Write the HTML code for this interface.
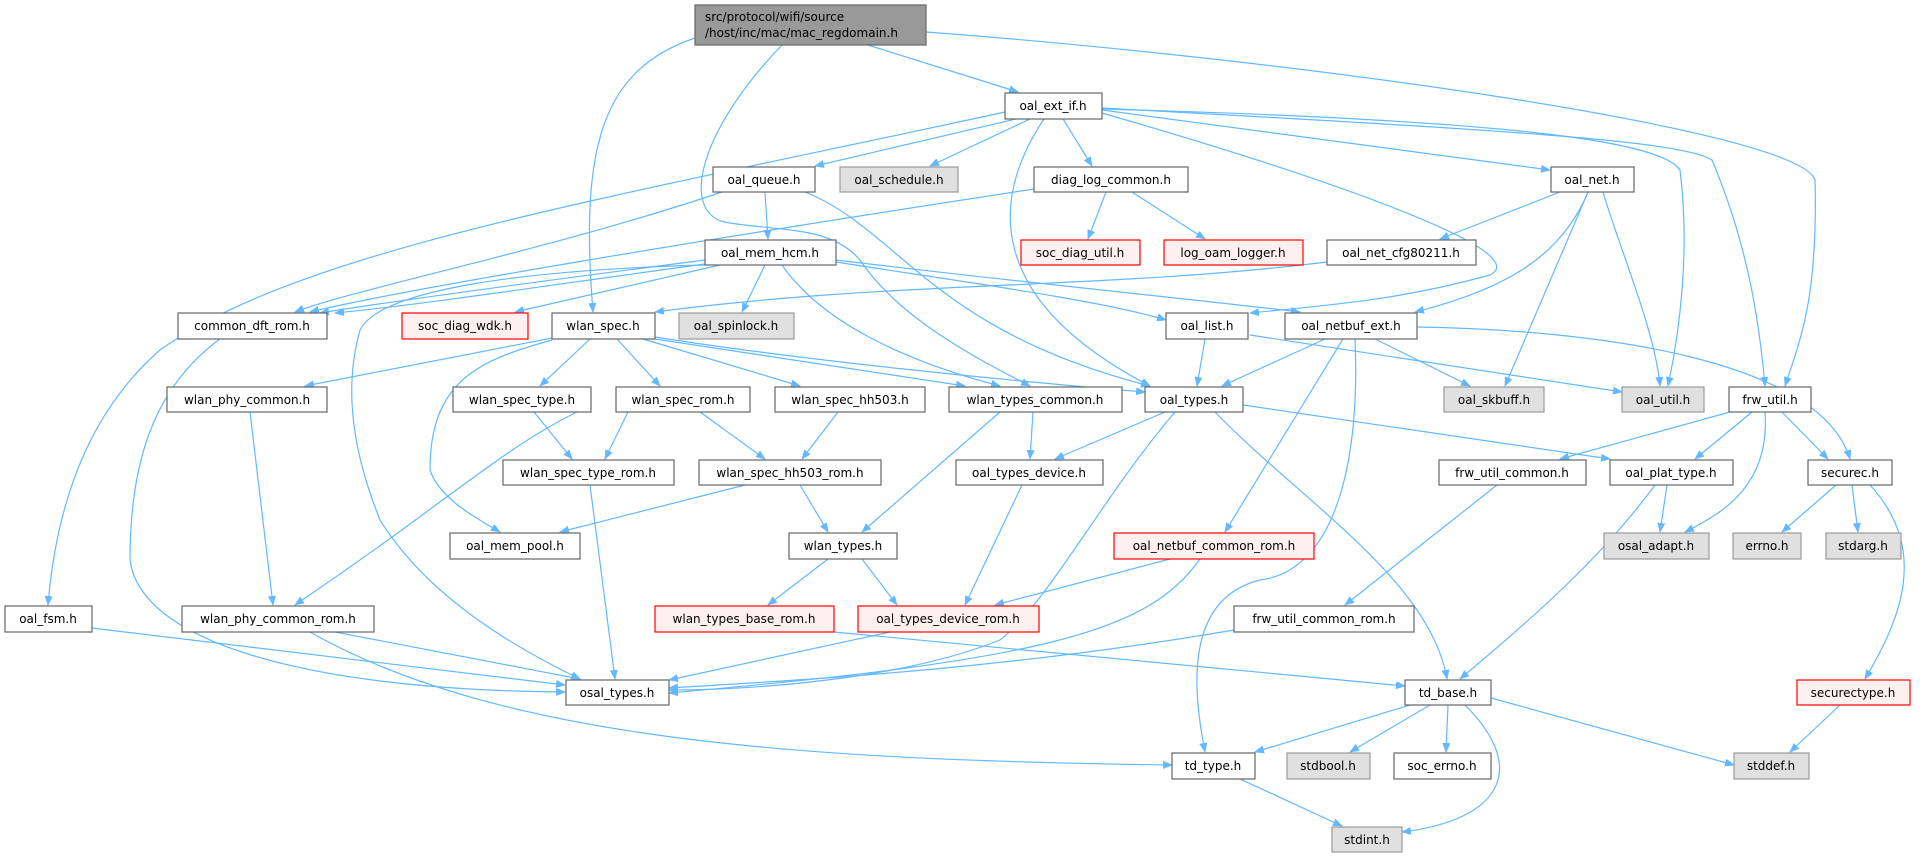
<!DOCTYPE html>
<html><head><meta charset="utf-8"><style>
html,body{margin:0;padding:0;background:#fff}
svg{display:block}
text{font-family:"DejaVu Sans","Liberation Sans",sans-serif;font-size:12px;fill:#000}
.e{fill:none;stroke:#63b8ff;stroke-width:1.2}
.n{fill:#fff;stroke:#666;stroke-width:1.2}
.g{fill:#e0e0e0;stroke:#999;stroke-width:1.2}
.r{fill:#fff0f0;stroke:#f00;stroke-width:1.2}
</style></head><body>
<svg width="1924" height="857" viewBox="0 0 1924 857" xmlns="http://www.w3.org/2000/svg">
<defs><marker id="a" markerWidth="10" markerHeight="8" refX="9" refY="4" orient="auto" markerUnits="userSpaceOnUse"><path d="M0,0 L10,4 L0,8 z" fill="#63b8ff"/></marker></defs>
<g marker-end="url(#a)">
<path class="e" d="M695,38 C600,70 580,150 593,312"/>
<path class="e" d="M782,45 C700,130 680,210 724,222 C780,232 830,225 860,260 C900,320 980,360 1030,386"/>
<path class="e" d="M868,45 L1018,92"/>
<path class="e" d="M926,32 C1300,60 1800,130 1815,180 C1818,300 1800,340 1785,386"/>
<path class="e" d="M1005,112 C600,200 300,250 160,350 C80,420 55,520 48,605"/>
<path class="e" d="M1020,118 L815,166"/>
<path class="e" d="M1030,119 L930,166"/>
<path class="e" d="M1063,119 L1092,166"/>
<path class="e" d="M1044,119 C990,200 985,300 1150,386"/>
<path class="e" d="M1102,113 C1300,170 1540,250 1490,275 C1400,300 1330,305 1250,313"/>
<path class="e" d="M1102,110 L1550,170"/>
<path class="e" d="M1102,109 C1500,120 1660,140 1680,170 C1690,250 1680,330 1668,386"/>
<path class="e" d="M1102,108 C1500,130 1680,140 1712,160 C1750,250 1760,330 1765,386"/>
<path class="e" d="M722,192 C550,250 350,290 295,312"/>
<path class="e" d="M765,192 L768,239"/>
<path class="e" d="M805,192 C900,230 930,330 1150,386"/>
<path class="e" d="M1034,189 C700,240 400,290 310,312"/>
<path class="e" d="M1106,192 L1088,239"/>
<path class="e" d="M1132,192 L1205,239"/>
<path class="e" d="M1560,192 L1440,239"/>
<path class="e" d="M1588,192 C1560,260 1500,290 1415,312"/>
<path class="e" d="M1588,192 L1505,386"/>
<path class="e" d="M1603,192 C1620,250 1655,330 1660,386"/>
<path class="e" d="M1327,262 C1100,290 900,280 655,312"/>
<path class="e" d="M705,260 C550,280 400,300 320,313"/>
<path class="e" d="M705,264 C550,285 420,305 335,313"/>
<path class="e" d="M720,265 L515,312"/>
<path class="e" d="M765,265 L742,312"/>
<path class="e" d="M705,265 C520,270 380,290 360,330 C340,400 360,470 380,520 C430,600 520,650 580,679"/>
<path class="e" d="M782,265 C820,320 900,360 1000,386"/>
<path class="e" d="M836,262 C950,280 1100,300 1166,320"/>
<path class="e" d="M836,260 C1000,280 1200,300 1300,312"/>
<path class="e" d="M220,339 C150,390 130,470 130,560 C140,640 300,690 565,692"/>
<path class="e" d="M552,338 L305,386"/>
<path class="e" d="M552,340 C480,360 430,380 430,470 C440,500 480,520 500,532"/>
<path class="e" d="M590,339 L540,386"/>
<path class="e" d="M617,339 L660,386"/>
<path class="e" d="M643,339 L800,386"/>
<path class="e" d="M655,339 L965,386"/>
<path class="e" d="M655,337 C800,360 1000,380 1145,392"/>
<path class="e" d="M250,412 L273,605"/>
<path class="e" d="M534,412 L572,459"/>
<path class="e" d="M628,412 L605,459"/>
<path class="e" d="M700,412 L765,459"/>
<path class="e" d="M577,412 C500,450 450,500 295,605"/>
<path class="e" d="M838,412 L802,459"/>
<path class="e" d="M1033,412 L1030,459"/>
<path class="e" d="M1000,412 L862,532"/>
<path class="e" d="M1165,412 L1055,459"/>
<path class="e" d="M1175,412 C1100,500 1050,600 1000,640 C900,680 750,690 669,690"/>
<path class="e" d="M1215,412 C1300,500 1430,580 1447,679"/>
<path class="e" d="M1243,405 L1610,459"/>
<path class="e" d="M1205,339 L1197,386"/>
<path class="e" d="M1250,335 L1622,392"/>
<path class="e" d="M1325,339 L1222,386"/>
<path class="e" d="M1343,339 L1225,532"/>
<path class="e" d="M1355,339 C1360,450 1340,570 1260,580 C1180,600 1195,700 1205,752"/>
<path class="e" d="M1375,339 L1470,386"/>
<path class="e" d="M1417,327 C1600,330 1820,360 1850,459"/>
<path class="e" d="M1730,412 L1560,459"/>
<path class="e" d="M1752,412 L1695,459"/>
<path class="e" d="M1765,412 C1770,480 1730,510 1685,532"/>
<path class="e" d="M1782,412 L1828,459"/>
<path class="e" d="M745,485 L560,532"/>
<path class="e" d="M800,485 L828,532"/>
<path class="e" d="M590,485 L615,679"/>
<path class="e" d="M1022,485 L965,605"/>
<path class="e" d="M1497,485 L1345,605"/>
<path class="e" d="M1667,485 L1660,532"/>
<path class="e" d="M1655,485 C1600,560 1530,620 1460,679"/>
<path class="e" d="M1836,485 L1782,532"/>
<path class="e" d="M1852,485 L1858,532"/>
<path class="e" d="M1870,485 C1930,550 1900,620 1865,679"/>
<path class="e" d="M828,559 L768,605"/>
<path class="e" d="M862,559 L897,605"/>
<path class="e" d="M1170,559 L995,605"/>
<path class="e" d="M1200,559 C1150,630 1050,660 669,693"/>
<path class="e" d="M92,628 L565,685"/>
<path class="e" d="M335,632 L580,679"/>
<path class="e" d="M310,632 C500,740 800,760 1172,765"/>
<path class="e" d="M834,632 L1405,686"/>
<path class="e" d="M890,632 L669,680"/>
<path class="e" d="M1234,630 C1000,670 800,680 669,688"/>
<path class="e" d="M1410,705 L1255,752"/>
<path class="e" d="M1430,705 L1350,752"/>
<path class="e" d="M1448,705 L1446,752"/>
<path class="e" d="M1465,705 C1530,770 1500,820 1402,832"/>
<path class="e" d="M1491,698 L1734,765"/>
<path class="e" d="M1840,705 L1790,752"/>
<path class="e" d="M1240,779 L1342,826"/>
</g>
<rect x="695" y="5" width="231" height="40" fill="#999" stroke="#666" stroke-width="1.2"/>
<text x="705" y="21">src/protocol/wifi/source</text>
<text x="705" y="37">/host/inc/mac/mac_regdomain.h</text>
<g text-anchor="middle">
<rect class="n" x="1005" y="93" width="97" height="26"/><text x="1053" y="110">oal_ext_if.h</text>
<rect class="n" x="713" y="167" width="102" height="25"/><text x="764" y="184">oal_queue.h</text>
<rect class="g" x="840" y="167" width="118" height="25"/><text x="899" y="184">oal_schedule.h</text>
<rect class="n" x="1034" y="167" width="154" height="25"/><text x="1111" y="184">diag_log_common.h</text>
<rect class="n" x="1551" y="167" width="83" height="25"/><text x="1592" y="184">oal_net.h</text>
<rect class="n" x="705" y="240" width="131" height="25"/><text x="770" y="257">oal_mem_hcm.h</text>
<rect class="r" x="1021" y="240" width="119" height="25"/><text x="1080" y="257">soc_diag_util.h</text>
<rect class="r" x="1164" y="240" width="139" height="25"/><text x="1233" y="257">log_oam_logger.h</text>
<rect class="n" x="1327" y="240" width="149" height="25"/><text x="1401" y="257">oal_net_cfg80211.h</text>
<rect class="n" x="178" y="313" width="149" height="26"/><text x="252" y="330">common_dft_rom.h</text>
<rect class="r" x="402" y="313" width="126" height="26"/><text x="465" y="330">soc_diag_wdk.h</text>
<rect class="n" x="552" y="313" width="103" height="26"/><text x="603" y="330">wlan_spec.h</text>
<rect class="g" x="679" y="313" width="115" height="26"/><text x="736" y="330">oal_spinlock.h</text>
<rect class="n" x="1166" y="313" width="82" height="26"/><text x="1207" y="330">oal_list.h</text>
<rect class="n" x="1285" y="313" width="132" height="26"/><text x="1351" y="330">oal_netbuf_ext.h</text>
<rect class="n" x="167" y="387" width="160" height="25"/><text x="247" y="404">wlan_phy_common.h</text>
<rect class="n" x="453" y="387" width="138" height="25"/><text x="522" y="404">wlan_spec_type.h</text>
<rect class="n" x="616" y="387" width="134" height="25"/><text x="683" y="404">wlan_spec_rom.h</text>
<rect class="n" x="775" y="387" width="150" height="25"/><text x="850" y="404">wlan_spec_hh503.h</text>
<rect class="n" x="949" y="387" width="173" height="25"/><text x="1035" y="404">wlan_types_common.h</text>
<rect class="n" x="1145" y="387" width="98" height="25"/><text x="1194" y="404">oal_types.h</text>
<rect class="g" x="1444" y="387" width="100" height="25"/><text x="1494" y="404">oal_skbuff.h</text>
<rect class="g" x="1622" y="387" width="82" height="25"/><text x="1663" y="404">oal_util.h</text>
<rect class="n" x="1729" y="387" width="82" height="25"/><text x="1770" y="404">frw_util.h</text>
<rect class="n" x="503" y="460" width="171" height="25"/><text x="588" y="477">wlan_spec_type_rom.h</text>
<rect class="n" x="699" y="460" width="182" height="25"/><text x="790" y="477">wlan_spec_hh503_rom.h</text>
<rect class="n" x="956" y="460" width="147" height="25"/><text x="1029" y="477">oal_types_device.h</text>
<rect class="n" x="1439" y="460" width="147" height="25"/><text x="1512" y="477">frw_util_common.h</text>
<rect class="n" x="1610" y="460" width="123" height="25"/><text x="1671" y="477">oal_plat_type.h</text>
<rect class="n" x="1808" y="460" width="84" height="25"/><text x="1850" y="477">securec.h</text>
<rect class="n" x="450" y="533" width="130" height="26"/><text x="515" y="550">oal_mem_pool.h</text>
<rect class="n" x="789" y="533" width="108" height="26"/><text x="843" y="550">wlan_types.h</text>
<rect class="r" x="1114" y="533" width="200" height="26"/><text x="1214" y="550">oal_netbuf_common_rom.h</text>
<rect class="g" x="1604" y="533" width="105" height="26"/><text x="1656" y="550">osal_adapt.h</text>
<rect class="g" x="1733" y="533" width="68" height="26"/><text x="1767" y="550">errno.h</text>
<rect class="g" x="1826" y="533" width="75" height="26"/><text x="1863" y="550">stdarg.h</text>
<rect class="n" x="5" y="606" width="87" height="26"/><text x="48" y="623">oal_fsm.h</text>
<rect class="n" x="182" y="606" width="192" height="26"/><text x="278" y="623">wlan_phy_common_rom.h</text>
<rect class="r" x="655" y="606" width="179" height="26"/><text x="744" y="623">wlan_types_base_rom.h</text>
<rect class="r" x="858" y="606" width="181" height="26"/><text x="948" y="623">oal_types_device_rom.h</text>
<rect class="n" x="1234" y="606" width="180" height="26"/><text x="1324" y="623">frw_util_common_rom.h</text>
<rect class="n" x="566" y="680" width="103" height="25"/><text x="617" y="697">osal_types.h</text>
<rect class="n" x="1405" y="680" width="86" height="25"/><text x="1448" y="697">td_base.h</text>
<rect class="r" x="1797" y="680" width="113" height="25"/><text x="1853" y="697">securectype.h</text>
<rect class="n" x="1172" y="753" width="83" height="26"/><text x="1213" y="770">td_type.h</text>
<rect class="g" x="1287" y="753" width="83" height="26"/><text x="1328" y="770">stdbool.h</text>
<rect class="n" x="1394" y="753" width="97" height="26"/><text x="1442" y="770">soc_errno.h</text>
<rect class="g" x="1734" y="753" width="75" height="26"/><text x="1771" y="770">stddef.h</text>
<rect class="g" x="1332" y="827" width="70" height="25"/><text x="1367" y="844">stdint.h</text>
</g>
</svg>
</body></html>
